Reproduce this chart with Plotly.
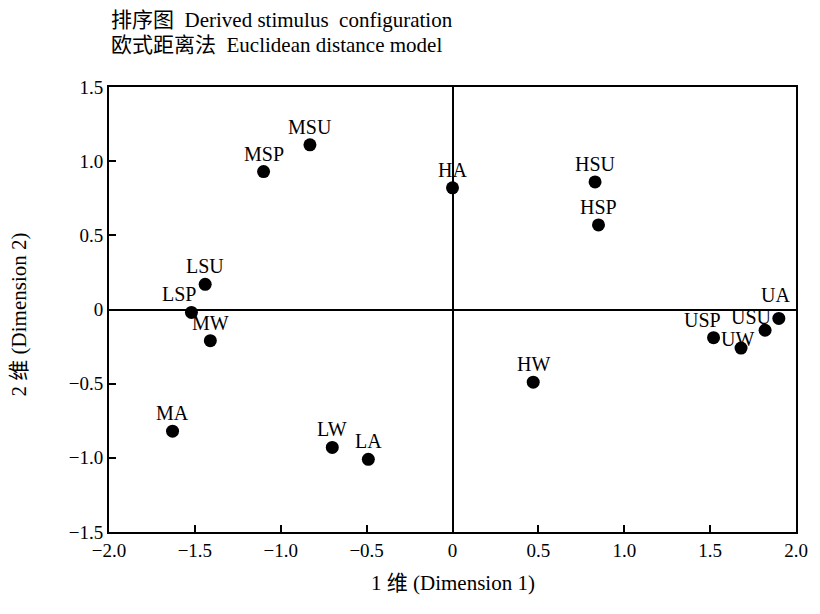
import plotly.graph_objects as go

# Data
names = ["MSU", "MSP", "HA", "HSU", "HSP", "LSU", "LSP", "MW", "MA", "LW", "LA", "HW",
         "USP", "UW", "USU", "UA"]
dim1 = [-0.83, -1.10, 0.00, 0.83, 0.85, -1.44, -1.52, -1.41, -1.63, -0.70, -0.49, 0.47,
        1.52, 1.68, 1.82, 1.90]
dim2 = [1.11, 0.93, 0.82, 0.86, 0.57, 0.17, -0.02, -0.21, -0.82, -0.93, -1.01, -0.49,
        -0.19, -0.26, -0.14, -0.06]

x_tickvals = [-2.0, -1.5, -1.0, -0.5, 0, 0.5, 1.0, 1.5, 2.0]
x_ticktext = ["\u22122.0", "\u22121.5", "\u22121.0", "\u22120.5", "0", "0.5", "1.0", "1.5", "2.0"]
y_tickvals = [1.5, 1.0, 0.5, 0, -0.5, -1.0, -1.5]
y_ticktext = ["1.5", "1.0", "0.5", "0", "\u22120.5", "\u22121.0", "\u22121.5"]

title_line1 = "排序图  Derived stimulus  configuration"
title_line2 = "欧式距离法  Euclidean distance model"
x_title = "1 维 (Dimension 1)"
y_title = "2 维 (Dimension 2)"

# label offsets in pixels (styling)
label_shift = {"LSP": (-12, 0), "USP": (-11, 0), "UW": (-4, -9), "USU": (-14, -5), "UA": (-3, 5)}

FONT = "Liberation Serif, Times New Roman, Noto Sans CJK SC, serif"

fig = go.Figure()
fig.add_trace(go.Scatter(
    x=dim1, y=dim2, mode="markers",
    marker=dict(color="black", size=13),
    hoverinfo="skip", showlegend=False,
))

for n, xv, yv in zip(names, dim1, dim2):
    dx, dy = label_shift.get(n, (0, 0))
    fig.add_annotation(
        x=xv, y=yv, text=n, showarrow=False,
        xanchor="center", yanchor="bottom",
        xshift=dx, yshift=5 + dy,
        font=dict(family=FONT, size=20, color="black"),
    )

# Titles as paper annotations
fig.add_annotation(xref="paper", yref="paper", x=0.0, y=1 + (87 - 20) / 445,
                   xanchor="left", yanchor="middle", showarrow=False,
                   text=title_line1, font=dict(family=FONT, size=21, color="black"))
fig.add_annotation(xref="paper", yref="paper", x=0.0, y=1 + (87 - 45) / 445,
                   xanchor="left", yanchor="middle", showarrow=False,
                   text=title_line2, font=dict(family=FONT, size=21, color="black"))
fig.add_annotation(xref="paper", yref="paper", x=0.5, y=(532 - 583) / 445,
                   xanchor="center", yanchor="middle", showarrow=False,
                   text=x_title, font=dict(family=FONT, size=21, color="black"))
fig.add_annotation(xref="paper", yref="paper", x=(18 - 109) / 698, y=0.49,
                   xanchor="center", yanchor="middle", showarrow=False, textangle=-90,
                   text=y_title, font=dict(family=FONT, size=21, color="black"))

fig.update_layout(
    width=820, height=614,
    margin=dict(l=109, r=13, t=87, b=82),
    paper_bgcolor="white", plot_bgcolor="white",
    font=dict(family=FONT, size=18, color="black"),
    xaxis=dict(
        range=[-2.0, 2.0], tickvals=x_tickvals, ticktext=x_ticktext,
        showline=True, linecolor="black", linewidth=2, mirror=True,
        ticks="inside", ticklen=7, tickcolor="black", tickwidth=1.5,
        showgrid=False, zeroline=True, zerolinecolor="black", zerolinewidth=1.5,
        tickfont=dict(family=FONT, size=19),
    ),
    yaxis=dict(
        range=[-1.5, 1.5], tickvals=y_tickvals, ticktext=y_ticktext,
        showline=True, linecolor="black", linewidth=2, mirror=True,
        ticks="inside", ticklen=7, tickcolor="black", tickwidth=1.5,
        showgrid=False, zeroline=True, zerolinecolor="black", zerolinewidth=1.5,
        tickfont=dict(family=FONT, size=19),
    ),
)

fig.write_html("out.html", config={"displayModeBar": False},
               post_script="document.body.style.margin='0';document.body.style.padding='0';")
